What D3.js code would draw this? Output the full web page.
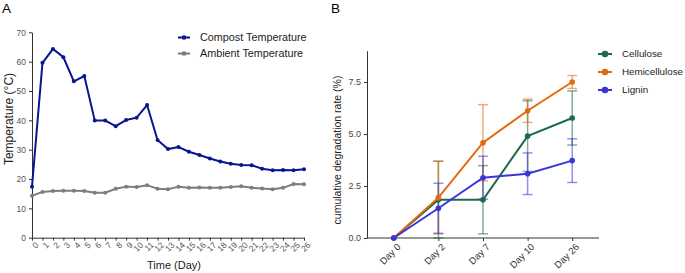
<!DOCTYPE html>
<html>
<head>
<meta charset="utf-8">
<script src="https://cdn.jsdelivr.net/npm/d3@7"></script>
<style>
  body { margin: 0; background: #fff; }
  svg { font-family: "Liberation Sans", Arial, sans-serif; }
  .axis path, .axis line { stroke: #333; }
</style>
</head>
<body>
<div id="chart"></div>
<script>
// Panel A: temperature by day
const days = d3.range(0, 27);
const compostTemp = [17.4, 59.6, 64.3, 61.5, 53.3, 55.1, 39.9, 39.9, 38.0, 40.1, 40.9, 45.2, 33.3, 30.2, 30.9,
  29.3, 28.2, 27.0, 26.0, 25.2, 24.8, 24.7, 23.5, 23.0, 23.1, 23.0, 23.3];
const ambientTemp = [14.3, 15.6, 15.9, 16.0, 16.0, 15.9, 15.3, 15.3, 16.7, 17.4, 17.3, 17.9, 16.7, 16.5, 17.4,
  17.0, 17.1, 17.0, 17.0, 17.3, 17.5, 17.0, 16.8, 16.5, 17.0, 18.3, 18.2];
const tempTicks = [0, 10, 20, 30, 40, 50, 60, 70];

// Panel B: cumulative degradation
const stages = ["Day 0", "Day 2", "Day 7", "Day 10", "Day 26"];
const celluloseMean = [0, 1.84, 1.84, 4.9, 5.77];
const celluloseErr = [0, 1.85, 1.64, 1.7, 1.3];
const hemiMean = [0, 1.94, 4.58, 6.12, 7.5];
const hemiErr = [0, 1.75, 1.83, 0.56, 0.31];
const ligninMean = [0, 1.43, 2.9, 3.09, 3.72];
const ligninErr = [0, 1.2, 1.03, 1.0, 1.05];
const degTicks = [0, 2.5, 5.0, 7.5];

const svg = d3.select("#chart").append("svg")
  .attr("width", 685)
  .attr("height", 273);

// ---------- Panel A ----------
const xA = d3.scaleLinear().domain([0, 26]).range([32, 304]);
const yA = d3.scaleLinear().domain([0, 70]).range([237.7, 32.3]);

svg.append("text").attr("x", 2).attr("y", 13).style("font-size", "13.5px").text("A");

const axA = svg.append("g").attr("class", "axis")
  .attr("transform", `translate(0,${yA(0)})`)
  .call(d3.axisBottom(xA).tickValues(days).tickSize(3).tickSizeOuter(0));
axA.selectAll("text")
  .style("font-size", "8.5px").style("fill", "#555")
  .style("text-anchor", "end")
  .attr("transform", "rotate(-45)")
  .attr("dx", "-0.1em").attr("dy", "0.5em");

const ayA = svg.append("g").attr("class", "axis")
  .attr("transform", `translate(${xA(0)},0)`)
  .call(d3.axisLeft(yA).tickValues(tempTicks).tickSize(3).tickSizeOuter(0));
ayA.selectAll("text").style("font-size", "8.5px").style("fill", "#555");

svg.append("text")
  .attr("transform", `translate(12.5,119) rotate(-90)`)
  .attr("text-anchor", "middle")
  .style("font-size", "12px").style("fill", "#222")
  .text("Temperature (°C)");

svg.append("text")
  .attr("x", 174).attr("y", 269)
  .attr("text-anchor", "middle")
  .style("font-size", "11px").style("fill", "#222")
  .text("Time (Day)");

const seriesA = [
  { name: "Compost Temperature", values: compostTemp, color: "#0a1690" },
  { name: "Ambient Temperature", values: ambientTemp, color: "#7d7d7d" }
];
const lineA = d3.line().x((d, i) => xA(days[i])).y(d => yA(d));
seriesA.forEach(s => {
  svg.append("path").datum(s.values)
    .attr("fill", "none").attr("stroke", s.color).attr("stroke-width", 2)
    .attr("d", lineA);
  svg.append("g").selectAll("circle").data(s.values).join("circle")
    .attr("cx", (d, i) => xA(days[i])).attr("cy", d => yA(d))
    .attr("r", 2).attr("fill", s.color);
});

const legA = svg.append("g").attr("transform", "translate(178,37.5)");
seriesA.forEach((s, i) => {
  const g = legA.append("g").attr("transform", `translate(0,${i * 16})`);
  g.append("line").attr("x1", 0).attr("x2", 12).attr("stroke", s.color).attr("stroke-width", 2);
  g.append("circle").attr("cx", 6).attr("r", 2.3).attr("fill", s.color);
  g.append("text").attr("x", 22).attr("dy", "0.35em")
    .style("font-size", "10.8px").style("fill", "#222").text(s.name);
});

// ---------- Panel B ----------
const xB = d3.scalePoint().domain(stages).range([367, 599]).padding(0.6);
const yB = d3.scaleLinear().domain([0, 9]).range([238, 50.8]);

svg.append("text").attr("x", 331).attr("y", 13).style("font-size", "13.5px").text("B");

const axB = svg.append("g").attr("class", "axis")
  .attr("transform", `translate(0,${yB(0)})`)
  .call(d3.axisBottom(xB).tickSize(3).tickSizeOuter(0));
axB.select(".domain").attr("d", "M367,0H599");
axB.selectAll("text")
  .style("font-size", "9.5px").style("fill", "#333")
  .style("text-anchor", "end")
  .attr("transform", "rotate(-45)")
  .attr("dx", "-0.2em").attr("dy", "0.6em");

const ayB = svg.append("g").attr("class", "axis")
  .attr("transform", "translate(367,0)")
  .call(d3.axisLeft(yB).tickValues(degTicks).tickFormat(d3.format(".1f")).tickSize(3).tickSizeOuter(0));
ayB.selectAll("text").style("font-size", "9px").style("fill", "#444");

svg.append("text")
  .attr("transform", `translate(341,150) rotate(-90)`)
  .attr("text-anchor", "middle")
  .style("font-size", "10.5px").style("fill", "#222")
  .text("cumulative degradation rate (%)");

const seriesB = [
  { name: "Cellulose", mean: celluloseMean, err: celluloseErr, color: "#1b6a4b" },
  { name: "Hemicellulose", mean: hemiMean, err: hemiErr, color: "#e3690e" },
  { name: "Lignin", mean: ligninMean, err: ligninErr, color: "#3b35d8" }
];
const lineB = d3.line().x((d, i) => xB(stages[i])).y(d => yB(d));

// error bars first (lighter)
seriesB.forEach(s => {
  const g = svg.append("g").attr("stroke", s.color).attr("stroke-opacity", 0.55).attr("stroke-width", 1.5);
  s.mean.forEach((m, i) => {
    if (s.err[i] === 0) return;
    const cx = xB(stages[i]);
    const lo = Math.max(0, m - s.err[i]), hi = m + s.err[i];
    g.append("line").attr("x1", cx).attr("x2", cx).attr("y1", yB(lo)).attr("y2", yB(hi));
    g.append("line").attr("x1", cx - 5).attr("x2", cx + 5).attr("y1", yB(lo)).attr("y2", yB(lo));
    g.append("line").attr("x1", cx - 5).attr("x2", cx + 5).attr("y1", yB(hi)).attr("y2", yB(hi));
  });
});

seriesB.forEach(s => {
  svg.append("path").datum(s.mean)
    .attr("fill", "none").attr("stroke", s.color).attr("stroke-width", 2)
    .attr("d", lineB);
  svg.append("g").selectAll("circle").data(s.mean).join("circle")
    .attr("cx", (d, i) => xB(stages[i])).attr("cy", d => yB(d))
    .attr("r", 2.8).attr("fill", s.color);
});

const legB = svg.append("g").attr("transform", "translate(598,54)");
seriesB.forEach((s, i) => {
  const g = legB.append("g").attr("transform", `translate(0,${i * 18})`);
  g.append("line").attr("x1", 0).attr("x2", 14).attr("stroke", s.color).attr("stroke-width", 2);
  g.append("circle").attr("cx", 7).attr("r", 3.3).attr("fill", s.color);
  g.append("text").attr("x", 24).attr("dy", "0.35em")
    .style("font-size", "9.8px").style("fill", "#222").text(s.name);
});
</script>
</body>
</html>
